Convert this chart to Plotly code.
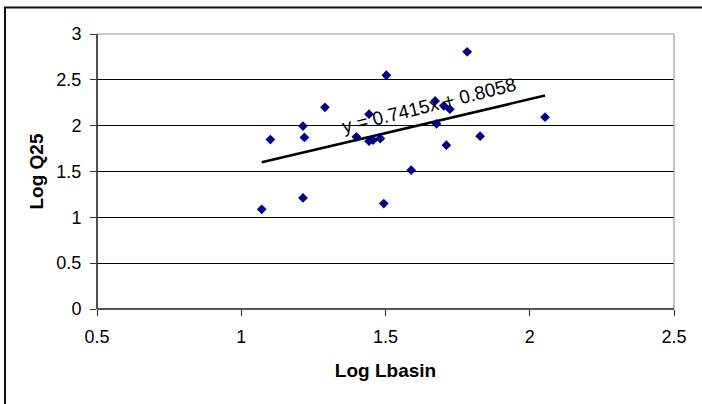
import plotly.graph_objects as go

# Data
log_lbasin = [1.071, 1.101, 1.214, 1.214, 1.219, 1.290, 1.399, 1.443, 1.443, 1.457, 1.482,
              1.494, 1.503, 1.589, 1.672, 1.677, 1.702, 1.711, 1.723, 1.783, 1.828, 2.053]
log_q25 = [1.088, 1.849, 1.212, 1.995, 1.871, 2.200, 1.878, 2.125, 1.831, 1.842, 1.860,
           1.150, 2.550, 1.514, 2.270, 2.020, 2.216, 1.787, 2.180, 2.806, 1.885, 2.093]
slope = 0.7415
intercept = 0.8058
x_ticks = [0.5, 1, 1.5, 2, 2.5]
y_ticks = [0, 0.5, 1, 1.5, 2, 2.5, 3]

FONT = "Arial, Liberation Sans, sans-serif"
L, R, T, B = 97, 28, 34, 95
W, H = 702, 404
pw, ph = W - L - R, H - T - B

def px(xp):
    return (xp - L) / pw

def py(yp):
    return (H - B - yp) / ph

trend_x = [min(log_lbasin), max(log_lbasin)]
trend_y = [slope * v + intercept for v in trend_x]

fig = go.Figure()
fig.add_trace(go.Scatter(
    x=trend_x, y=trend_y, mode="lines",
    line=dict(color="black", width=2.5), hoverinfo="skip", showlegend=False))
fig.add_trace(go.Scatter(
    x=log_lbasin, y=log_q25, mode="markers",
    marker=dict(symbol="diamond", color="#000080", size=7.5, line=dict(width=0)),
    showlegend=False))

fig.add_annotation(
    x=1.651, y=2.215, xref="x", yref="y",
    text=f"y = {slope}x + {intercept}", showarrow=False, textangle=-14,
    font=dict(family=FONT, size=19, color="black"))

# outer chart frame
fig.add_shape(type="rect", xref="paper", yref="paper",
              x0=px(5), x1=px(740), y0=py(440), y1=py(7.5),
              line=dict(color="#111111", width=2), layer="below")
# plot area border (gray top/right)
fig.add_shape(type="rect", xref="paper", yref="paper",
              x0=0, x1=1, y0=0, y1=1,
              line=dict(color="#9a9a9a", width=1.2), layer="above")
# left axis line (black) and bottom axis line (dark gray)
fig.add_shape(type="line", xref="paper", yref="paper", x0=0, x1=0, y0=0, y1=1,
              line=dict(color="black", width=1.2), layer="above")
fig.add_shape(type="line", xref="paper", yref="paper", x0=0, x1=1, y0=0, y1=0,
              line=dict(color="#555555", width=2), layer="above")

fig.update_layout(
    width=W, height=H,
    margin=dict(l=L, r=R, t=T, b=B, pad=0),
    paper_bgcolor="white", plot_bgcolor="white",
    font=dict(family=FONT, color="black"),
    xaxis=dict(
        range=[0.5, 2.5], tickvals=x_ticks, ticktext=[f"{v:g}" for v in x_ticks],
        showgrid=False, zeroline=False, showline=False,
        ticks="outside", ticklen=6, tickcolor="#333333", tickwidth=1,
        tickfont=dict(size=18, family=FONT, color="black"),
        ticklabelstandoff=5,
        title=dict(text="<b>Log Lbasin</b>", font=dict(size=19, family=FONT, color="black"),
                   standoff=18),
        automargin=False,
    ),
    yaxis=dict(
        range=[0, 3], tickvals=y_ticks, ticktext=[f"{v:g}" for v in y_ticks],
        showgrid=True, gridcolor="black", gridwidth=1,
        zeroline=False, showline=False,
        ticks="outside", ticklen=6, tickcolor="#333333", tickwidth=1,
        tickfont=dict(size=18, family=FONT, color="black"),
        ticklabelstandoff=5,
        title=dict(text="<b>Log Q25</b>", font=dict(size=19, family=FONT, color="black"),
                   standoff=7),
        automargin=False,
    ),
)

fig.write_html("out.html")
